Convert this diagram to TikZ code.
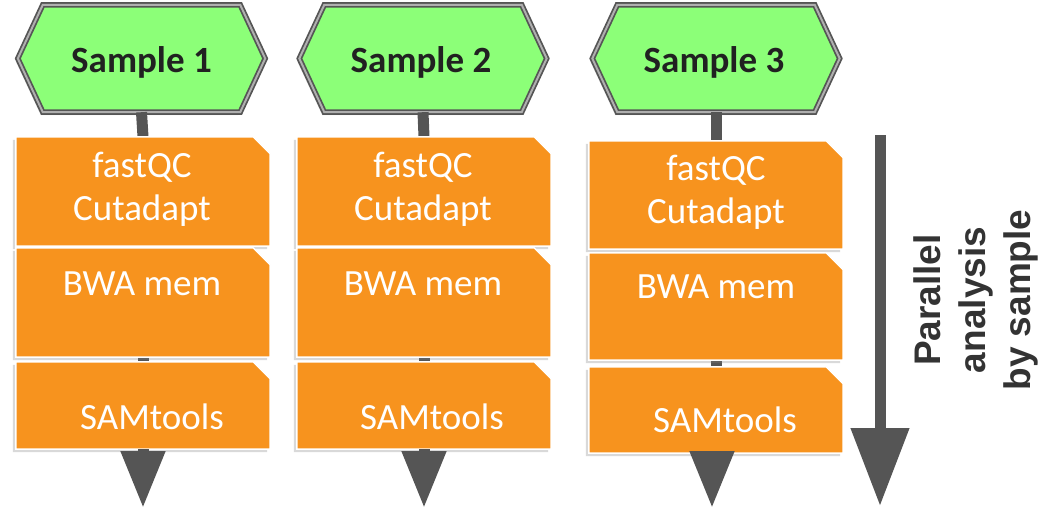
\documentclass[tikz,border=0pt]{standalone}
\usepackage{fontspec}
\setmainfont{Carlito}
\newfontfamily\arialb{Liberation Sans}
\usetikzlibrary{arrows.meta,shadows,backgrounds,calc}
\pgfdeclarelayer{boxes}
\pgfsetlayers{background,boxes,main}
\definecolor{hexgreen}{RGB}{140,255,120}
\definecolor{toolorange}{RGB}{247,147,30}
\definecolor{stemgray}{RGB}{85,85,85}
\definecolor{hexlight}{RGB}{175,175,175}
\tikzset{
 samplebox/.style={minimum width=247pt, minimum height=107pt, inner sep=0pt, font=\fontsize{37}{43}\selectfont\bfseries, text=black!87},
 hexshape/.style={fill=hexgreen, draw=stemgray, line width=5.5pt, line join=miter, drop shadow={shadow xshift=-2pt, shadow yshift=-3pt, opacity=0.25}},
 hexinner/.style={draw=hexlight, line width=2pt, line join=miter},
 boxframe/.style={rectangle, minimum width=254pt, inner sep=0pt},
 toolshape/.style={fill=toolorange, draw=white, line width=1.5pt, line join=miter, drop shadow={shadow xshift=-3pt, shadow yshift=-3pt, opacity=0.3}},
 tooltext/.style={text=white, font=\fontsize{37}{43}\selectfont, align=center},
 stem/.style={draw=stemgray, line width=11pt},
 tipline/.style={stem, -{Triangle[width=42pt,length=57pt]}},
 bigarrow/.style={stem, -{Triangle[width=56pt,length=78pt]}},
 sidetext/.style={rotate=90, align=center, font=\arialb\bfseries\fontsize{37}{45}\selectfont, text=black!80}
}
\newcommand{\hexagonpath}[1]{%
  (#1.west) -- ($(#1.north west)+(25,0)$) -- ($(#1.north east)+(-25,0)$) -- (#1.east) -- ($(#1.south east)+(-25,0)$) -- ($(#1.south west)+(25,0)$) -- cycle}
\newcommand{\chamferpath}[1]{%
  (#1.south west) -- (#1.north west) -- ($(#1.north east)+(-17,0)$) -- ($(#1.north east)+(0,17)$) -- (#1.south east) -- cycle}
\begin{document}
\begin{tikzpicture}[x=1pt,y=-1pt]
\useasboundingbox (0,0) rectangle (1048,515);
% sample hexagons
\node[samplebox] (s1) at (141.5,58.5) {};
\node[samplebox] (s2) at (423,58.5) {};
\node[samplebox] (s3) at (716,58.5) {};
\node[samplebox, minimum height=0pt] (sl1) at (141.5,62) {Sample 1};
\node[samplebox, minimum height=0pt] (sl2) at (421,62) {Sample 2};
\node[samplebox, minimum height=0pt] (sl3) at (714,62) {Sample 3};
\begin{pgfonlayer}{background}
\foreach \s in {s1,s2,s3}{
  \path[hexshape] \hexagonpath{\s};
  \path[hexinner] \hexagonpath{\s};
}
\end{pgfonlayer}
% tool boxes
\node[boxframe, minimum height=109pt] (b11) at (143,191.5) {};
\node[boxframe, minimum height=109pt] (b12) at (143,302.5) {};
\node[boxframe, minimum height=87pt] (b13) at (143,405.5) {};
\node[boxframe, minimum height=109pt] (b21) at (424,191.5) {};
\node[boxframe, minimum height=109pt] (b22) at (424,302.5) {};
\node[boxframe, minimum height=87pt] (b23) at (424,405.5) {};
\node[boxframe, minimum height=108pt] (b31) at (716,195) {};
\node[boxframe, minimum height=107pt] (b32) at (716,306.5) {};
\node[boxframe, minimum height=86pt] (b33) at (716,410) {};
\begin{pgfonlayer}{boxes}
\foreach \b in {b11,b12,b13,b21,b22,b23,b31,b32,b33}{
  \path[toolshape] \chamferpath{\b};
}
\end{pgfonlayer}
\begin{pgfonlayer}{background}
\draw[stem] (s1.south) -- (b11.north);
\draw[stem] (s2.south) -- (b21.north);
\draw[stem] (s3.south) -- (b31.north);
\draw[stem] ($(b12.south)+(0,-3)$) -- ($(b13.north)+(0,3)$);
\draw[stem] ($(b22.south)+(0,-3)$) -- ($(b23.north)+(0,3)$);
\draw[stem] ($(b32.south)+(0,-3)$) -- ($(b33.north)+(0,3)$);
\end{pgfonlayer}
% texts
\node[tooltext] (f1) at (142,189) {fastQC\\Cutadapt};
\node[tooltext] (w1) at (142,284) {BWA mem};
\node[tooltext] (m1) at (152,417) {SAMtools};
\node[tooltext] (f2) at (423,189) {fastQC\\Cutadapt};
\node[tooltext] (w2) at (423,284) {BWA mem};
\node[tooltext] (m2) at (432,417) {SAMtools};
\node[tooltext] (f3) at (716,192) {fastQC\\Cutadapt};
\node[tooltext] (w3) at (716,287) {BWA mem};
\node[tooltext] (m3) at (725,420) {SAMtools};
% down tips
\coordinate (t1) at (143,508);
\coordinate (t2) at (424,508);
\coordinate (t3) at (712,508);
\draw[tipline] (b13.south) -- (t1);
\draw[tipline] (b23.south) -- (t2);
\draw[tipline] ($(b33.south)+(-4,0)$) -- (t3);
% big arrow
\coordinate (pa) at (880,135);
\coordinate (pb) at (880,506);
\draw[bigarrow] (pa) -- (pb);
\node[sidetext] (lab) at (976,300) {Parallel\\analysis\\by sample};
\end{tikzpicture}
\end{document}
